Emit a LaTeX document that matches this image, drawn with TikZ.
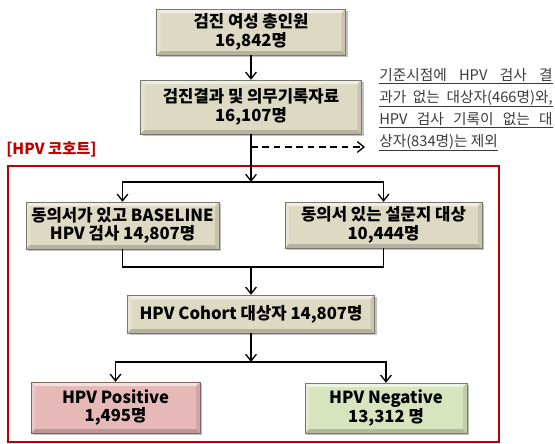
\documentclass[tikz,border=0pt]{standalone}
\usepackage{fontspec}
\setmainfont{Noto Sans CJK KR}
\usetikzlibrary{arrows.meta,shadows}
\definecolor{tanb}{HTML}{DDD9C3}
\definecolor{pinkb}{HTML}{E6B9B8}
\definecolor{greenb}{HTML}{D7E4BD}
\definecolor{redline}{HTML}{C00000}
\definecolor{notec}{HTML}{3A3A3A}
\tikzset{
  bevel/.style={fill=#1, draw=#1!55!black, line width=0.3pt,
    drop shadow={shadow xshift=1.5pt,shadow yshift=-1.5pt,opacity=0.35,fill=black!70},
    inner sep=0pt, align=center,
    font=\bfseries\fontsize{12.5}{14}\selectfont,
    path picture={
      \coordinate (ppnw) at (path picture bounding box.north west);
      \coordinate (ppne) at (path picture bounding box.north east);
      \coordinate (ppsw) at (path picture bounding box.south west);
      \coordinate (ppse) at (path picture bounding box.south east);
      \fill[#1!45!white] (ppnw) -- (ppne) -- ([shift={(-3pt,-3pt)}]ppne) -- ([shift={(3pt,-3pt)}]ppnw) -- cycle;
      \fill[#1!75!white] (ppnw) -- ([shift={(3pt,-3pt)}]ppnw) -- ([shift={(3pt,3pt)}]ppsw) -- (ppsw) -- cycle;
      \fill[#1!82!black] (ppsw) -- ([shift={(3pt,3pt)}]ppsw) -- ([shift={(-3pt,3pt)}]ppse) -- (ppse) -- cycle;
      \fill[#1!90!black] (ppne) -- (ppse) -- ([shift={(-3pt,3pt)}]ppse) -- ([shift={(-3pt,-3pt)}]ppne) -- cycle;
    }},
  arr/.style={-{Straight Barb[length=5pt,width=8pt]}, line width=1pt, black},
  conn/.style={line width=1pt, black},
  notetext/.style={anchor=base west, inner sep=0pt, text=notec, font=\fontsize{11}{12}\selectfont},
}
\begin{document}
\begin{tikzpicture}[x=0.75pt,y=-0.75pt]
\useasboundingbox (0,0) rectangle (555,443);

% red cohort frame
\draw[redline, line width=1pt] (8,166) rectangle (499,442);
\node[text=redline, font=\bfseries\fontsize{11.5}{13}\selectfont, anchor=west, inner sep=0pt] (lab) at (6,149) {[HPV 코호트]};

% boxes
\node[bevel=tanb, minimum width=141.75pt, minimum height=34.5pt] (b1) at (251,32) {검진 여성 총인원\\16,842명};
\node[bevel=tanb, minimum width=165.75pt, minimum height=40.5pt] (b2) at (251,107) {검진결과 및 의무기록자료\\16,107명};
\node[bevel=tanb, minimum width=144.75pt, minimum height=35.25pt] (b3) at (122.5,225.5) {동의서가 있고 BASELINE\\HPV 검사 14,807명};
\node[bevel=tanb, minimum width=147.75pt, minimum height=34.5pt] (b4) at (383.5,225) {동의서 있는 설문지 대상\\10,444명};
\node[bevel=tanb, minimum width=185.25pt, minimum height=28.5pt] (b5) at (251,314) {HPV Cohort 대상자 14,807명};
\node[bevel=pinkb, minimum width=126.75pt, minimum height=38.25pt] (b6) at (115.5,407.5) {HPV Positive\\1,495명};
\node[bevel=greenb, minimum width=121.5pt, minimum height=37.5pt] (b7) at (386,408) {HPV Negative\\13,312 명};

% note
\node[notetext] (n1) at (379,80) {\underline{\makebox[130pt][s]{기준시점에 HPV 검사 결}}};
\node[notetext] (n2) at (379,102) {\underline{\makebox[130pt][s]{과가 없는 대상자(466명)와,}}};
\node[notetext] (n3) at (379,124) {\underline{\makebox[130pt][s]{HPV 검사 기록이 없는 대}}};
\node[notetext] (n4) at (379,146) {\underline{상자(834명)는 제외}};

% connectors
\coordinate (j1) at (251,182);
\coordinate (m1) at (251,267);
\coordinate (j2) at (251,362);
\coordinate (d0) at (251,147);
\coordinate (d1) at (365,147);

\draw[arr] (b1.south) -- (b2.north);
\draw[arr] (b2.south) -- (j1);
\draw[arr, dash pattern=on 5pt off 3.5pt] (d0) -- (d1);
\draw[arr] (j1) -| (b3.north);
\draw[arr] (j1) -| (b4.north);
\draw[conn] (b3.south) |- (m1) -| (b4.south);
\draw[arr] (m1) -- (b5.north);
\draw[arr] (b5.south) -- (j2);
\draw[arr] (j2) -| (b6.north);
\draw[arr] (j2) -| (b7.north);
\end{tikzpicture}
\end{document}
